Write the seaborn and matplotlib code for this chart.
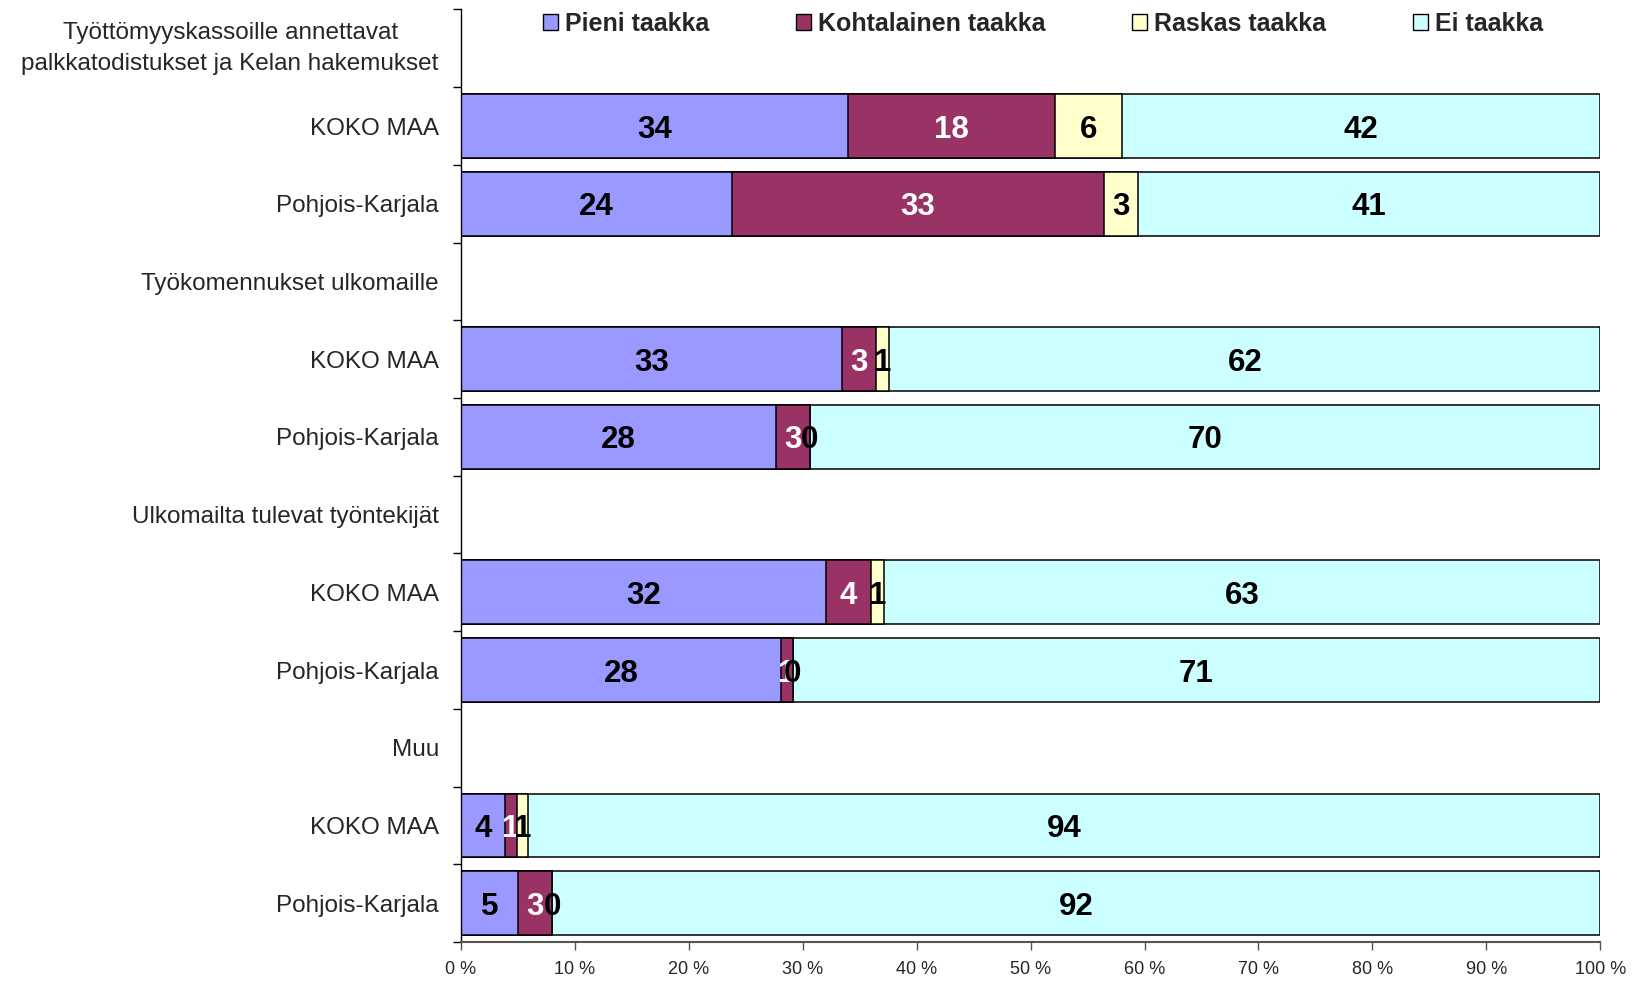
import seaborn as sns
import pandas as pd
import matplotlib.pyplot as plt
from matplotlib.patches import Patch
from matplotlib.ticker import FixedLocator

# Data (percent)
categories = ["Pieni taakka", "Kohtalainen taakka", "Raskas taakka", "Ei taakka"]
groups = ["Työttömyyskassoille annettavat\npalkkatodistukset ja Kelan hakemukset",
          "Työkomennukset ulkomaille",
          "Ulkomailta tulevat työntekijät",
          "Muu"]
regions = ["KOKO MAA", "Pohjois-Karjala"]
pieni = [34.0, 23.8, 33.4, 27.7, 32.0, 28.1, 3.9, 5.0]
kohtalainen = [18.1, 32.6, 3.0, 3.0, 4.0, 1.0, 1.0, 3.0]
raskas = [5.9, 3.0, 1.2, 0.0, 1.1, 0.0, 1.0, 0.0]
ei = [42.0, 40.6, 62.4, 69.6, 62.9, 70.9, 94.1, 92.0]

colors = ["#9999FF", "#993366", "#FFFFCC", "#CCFFFF"]
label_colors = ["black", "white", "black", "black"]

sns.set_style("white")
plt.rcParams["font.family"] = ["Liberation Sans", "DejaVu Sans"]

# 12 rows: group header followed by the two regions
row_labels = []
keys = []
for g in groups:
    row_labels += [g] + regions
for i in range(len(row_labels)):
    keys.append("r%d" % i)

series = [pieni, kohtalainen, raskas, ei]
rows = []
for j in range(len(pieni)):
    vals = [s[j] for s in series]
    total = sum(vals)
    key = keys[3 * (j // 2) + 1 + j % 2]
    cum = 0
    for c, v in zip(categories, vals):
        start = cum
        cum += v / total * 100
        rows.append({"key": key, "cat": c, "value": v, "start": start, "cum": cum})
df = pd.DataFrame(rows)

fig = plt.figure(figsize=(16.32, 9.82), dpi=100)
ax = fig.add_axes([0.2825, 0.0407, 0.698, 0.9497])

# stacked bars drawn as overlaid cumulative bars, widest first
for c, col in reversed(list(zip(categories, colors))):
    sub = df[df["cat"] == c]
    sns.barplot(data=sub, x="cum", y="key", order=keys, orient="h", color=col,
                saturation=1, edgecolor="black", linewidth=1.1, width=0.82,
                errorbar=None, ax=ax)

# value labels
pos = {k: i for i, k in enumerate(keys)}
for c, lc in zip(categories, label_colors):
    sub = df[df["cat"] == c]
    for _, r in sub.iterrows():
        ax.text((r["start"] + r["cum"]) / 2, pos[r["key"]], "%.0f" % r["value"],
                ha="center", va="center_baseline", color=lc, fontsize=22.5,
                fontweight="bold")

ax.set_xlim(0, 100)
ax.set_ylim(11.5, -0.5)
ax.set_xlabel("")
ax.set_ylabel("")
ax.set_xticks(range(0, 101, 10))
ax.set_xticklabels(["%d %%" % t for t in range(0, 101, 10)], fontsize=13)
ax.set_yticks(range(len(keys)))
ax.set_yticklabels(row_labels, fontsize=17.5)
for t in ax.get_yticklabels():
    t.set_multialignment("center")
    if "\n" in t.get_text():
        t.set_linespacing(1.55)
        t.set_va("center")
ax.yaxis.set_minor_locator(FixedLocator([i - 0.5 for i in range(len(keys) + 1)]))
ax.tick_params(axis="y", which="major", length=0, pad=16)
ax.tick_params(axis="y", which="minor", length=6, width=1, color="black", left=True)
ax.tick_params(axis="x", which="major", length=6, width=1, color="#555555",
               bottom=True, pad=8)

for s in ["top", "right"]:
    ax.spines[s].set_visible(False)
ax.spines["left"].set_color("black")
ax.spines["left"].set_linewidth(1)
ax.spines["bottom"].set_color("#555555")
ax.spines["bottom"].set_linewidth(1.5)

handles = [Patch(facecolor=col, edgecolor="black", linewidth=1) for col in colors]
fig.legend(handles, categories, loc="center", bbox_to_anchor=(0.639, 0.976),
           ncol=4, frameon=False, prop={"size": 18, "weight": "bold"},
           handlelength=0.6, handleheight=0.6, handletextpad=0.3,
           columnspacing=3.45)

fig.savefig("out.png", dpi=100)
